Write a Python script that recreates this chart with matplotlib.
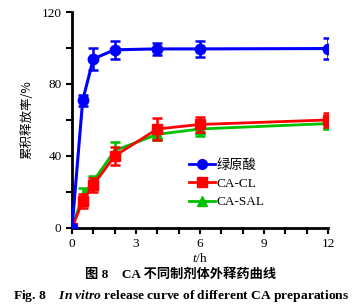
import matplotlib.pyplot as plt
from matplotlib.lines import Line2D
from matplotlib.ticker import MultipleLocator

plt.rcParams['font.family'] = ['Liberation Serif', 'Noto Sans CJK SC']
plt.rcParams['mathtext.fontset'] = 'custom'
plt.rcParams['mathtext.rm'] = 'Liberation Serif'
plt.rcParams['mathtext.it'] = 'Liberation Serif:italic'
plt.rcParams['mathtext.bf'] = 'Liberation Serif:bold'
plt.rcParams['mathtext.bfit'] = 'Liberation Serif:bold:italic'

t = [0, 0.5, 1, 2, 4, 6, 12]
ca = [0, 71, 94, 99, 99.5, 99.5, 99.7]
ca_err = [0, 3, 6, 5, 3.5, 4.5, 6]
cl = [0, 15, 24, 40, 55, 57.5, 60]
cl_err = [0, 4, 4, 5, 6, 4, 4]
sal = [0, 18, 26, 43, 52, 55, 58]
sal_err = [0, 4, 3, 5, 3, 4, 3]
labels = ['绿原酸', 'CA-CL', 'CA-SAL']
colors = ['#0000ff', '#ff0000', '#00c000']
markers = ['o', 's', '^']

fig = plt.figure(figsize=(3.62, 3.08), dpi=100)
ax = fig.add_axes([0.199, 0.26, 0.707, 0.701])

ax.errorbar(t, sal, yerr=sal_err, color=colors[2], marker='^', ms=7, lw=2,
            capsize=3.5, elinewidth=1.8, capthick=1.8, zorder=2)
ax.errorbar(t, cl, yerr=cl_err, color=colors[1], marker='s', ms=7, lw=2,
            capsize=3.5, elinewidth=1.8, capthick=1.8, zorder=3)
ax.errorbar(t, ca, yerr=ca_err, color=colors[0], marker='o', ms=7.5, lw=2.2,
            capsize=3.5, elinewidth=1.8, capthick=1.8, zorder=4)

ax.set_xlim(0, 12)
ax.set_ylim(0, 120)
ax.xaxis.set_major_locator(MultipleLocator(3))
ax.xaxis.set_minor_locator(MultipleLocator(1))
ax.set_yticks([0, 40, 80, 120])
ax.yaxis.set_minor_locator(MultipleLocator(20))
ax.spines['top'].set_visible(False)
ax.spines['right'].set_visible(False)
ax.spines['left'].set_linewidth(2)
ax.spines['bottom'].set_linewidth(2)
ax.tick_params(which='both', width=1.5, direction='out', labelsize=9.5, length=4)
for s in ['left', 'bottom']:
    ax.spines[s].set_clip_on(False)

ax.set_xlabel('$\\it{t}$/h', fontsize=9.5, labelpad=1)
ax.set_ylabel('累积释放率/%', fontsize=9, family=['Noto Sans CJK SC'], labelpad=6)

handles = [Line2D([], [], color=c, marker=m, ms=7, lw=2) for c, m in zip(colors, markers)]
leg = ax.legend(handles, labels, loc='center left',
                bbox_to_anchor=(0.41, 0.205), frameon=False,
                handlelength=2.0, labelspacing=0.45, handletextpad=0.1,
                prop={'family': ['Liberation Serif', 'Noto Sans CJK SC'], 'size': 9.5})

fig.text(0.5, 0.098, '图 8    CA 不同制剂体外释药曲线', ha='center', fontsize=9.5,
         weight='bold', family=['Liberation Serif', 'Noto Sans CJK SC'])
fig.text(0.5, 0.03, 'Fig. 8    $\\mathbfit{In\\ vitro}$ release curve of different CA preparations',
         ha='center', fontsize=9.7, weight='bold')

fig.savefig('out.png', dpi=100)
